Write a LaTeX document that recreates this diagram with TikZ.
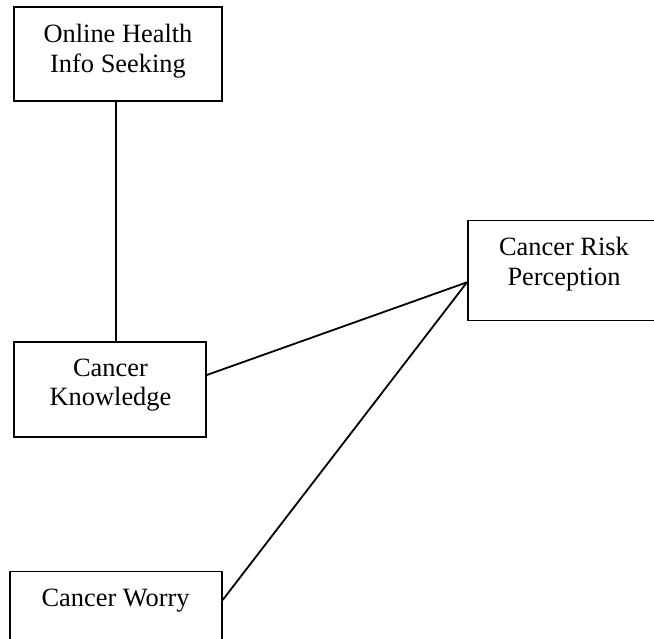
\documentclass[tikz,border=0pt]{standalone}
\usepackage{fontspec}
\setmainfont{Liberation Serif}
\usetikzlibrary{calc}
\begin{document}
\begin{tikzpicture}[x=1pt,y=-1pt,
  box/.style={draw, line width=1.8pt, rectangle, inner sep=0pt},
  txt/.style={anchor=base, inner sep=0pt, font=\fontsize{26.4}{29.5}\selectfont},
  link/.style={line width=1.8pt}]
\useasboundingbox (0,0) rectangle (654,638);
\clip (0,0) rectangle (654,638);

% boxes
\node[box, minimum width=208pt, minimum height=94pt]  (ohis)  at (117.9,54.3)  {};
\node[box, minimum width=192pt, minimum height=95pt]  (know)  at (109.9,389.4) {};
\node[box, minimum width=192pt, minimum height=100pt] (risk)  at (563.9,270.5) {};
\node[box, minimum width=212pt, minimum height=95pt]  (worry) at (115.8,619)   {};

% labels
\node[txt] (ohis1) at (118,42)   {Online Health};
\node[txt] (ohis2) at (118,72)   {Info Seeking};
\node[txt] (know1) at (110.5,376) {Cancer};
\node[txt] (know2) at (110.5,405.5) {Knowledge};
\node[txt] (risk1) at (564,255.5) {Cancer Risk};
\node[txt] (risk2) at (564,285)   {Perception};
\node[txt] (worry1) at (115.6,606) {Cancer Worry};

% connectors
\coordinate (ohisfoot) at ($(ohis.south)+(-2,0)$);
\draw[link] (ohisfoot) -- (ohisfoot |- know.north);
\draw[link] ($(know.east)+(0,-14.4)$) -- ($(risk.west)+(0,11.8)$);
\draw[link] ($(worry.east)+(0,-19)$) -- ($(risk.west)+(0,11.8)$);
\end{tikzpicture}
\end{document}
